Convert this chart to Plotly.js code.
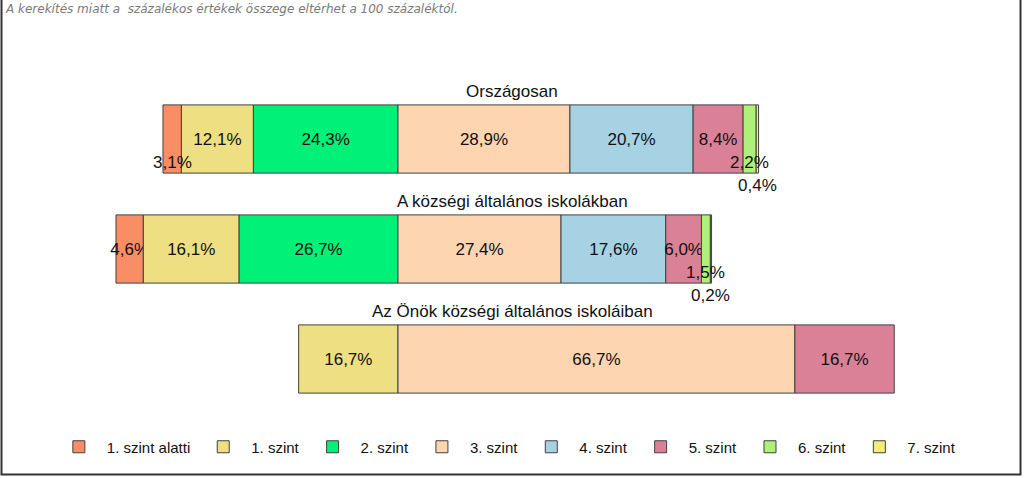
<!DOCTYPE html>
<html>
<head>
<meta charset="utf-8">
<script src="https://cdn.plot.ly/plotly-3.0.1.min.js"></script>
<style>html,body{margin:0;padding:0;background:#fff;}#chart{width:1024px;height:478px;}</style>
</head>
<body>
<div id="chart"></div>
<script>
// ---- data ----
const categories = ["Országosan", "A községi általános iskolákban", "Az Önök községi általános iskoláiban"];
const levelNames = ["1. szint alatti", "1. szint", "2. szint", "3. szint", "4. szint", "5. szint", "6. szint", "7. szint"];
const alatti = [3.1, 4.6, null];
const szint1 = [12.1, 16.1, 16.7];
const szint2 = [24.3, 26.7, null];
const szint3 = [28.9, 27.4, 66.7];
const szint4 = [20.7, 17.6, null];
const szint5 = [8.4, 6.0, 16.7];
const szint6 = [2.2, 1.5, null];
const szint7 = [0.4, 0.2, null];
const noteText = "A kerekítés miatt a  százalékos értékek összege eltérhet a 100 százaléktól.";

// ---- styles ----
const colors = ["#F98E66", "#EDDF82", "#00F078", "#FDD5B1", "#A6D2E3", "#DA8197", "#AEF07A", "#EEEE78"];
const series = [alatti, szint1, szint2, szint3, szint4, szint5, szint6, szint7];
const FONT = "Liberation Sans, Arial, sans-serif";
const fmt = v => v.toFixed(1).replace('.', ',') + '%';

// diverging: levels below 3. szint go to the left of zero
const starts = categories.map((c, i) => -((alatti[i] || 0) + (szint1[i] || 0) + (szint2[i] || 0)));
const cum = starts.slice();
const traces = [];
const annotations = [];
series.forEach((vals, k) => {
  const bases = [], texts = [];
  vals.forEach((v, i) => {
    bases.push(cum[i]);
    if (v != null) {
      if (v >= 4) texts.push(fmt(v));
      else {
        texts.push('');
        annotations.push({
          x: cum[i] + v / 2, y: categories[i], xref: 'x', yref: 'y',
          text: fmt(v), showarrow: false,
          yshift: v < 1 ? -46 : -23,
          font: {family: FONT, size: 17, color: '#111'}
        });
      }
      cum[i] += v;
    } else texts.push('');
  });
  traces.push({
    type: 'bar', orientation: 'h', name: levelNames[k],
    y: categories, x: vals, base: bases,
    text: texts, textposition: 'inside', insidetextanchor: 'middle',
    constraintext: 'none', textangle: 0,
    textfont: {family: FONT, size: 17, color: '#111'},
    marker: {color: colors[k], line: {color: '#404040', width: 1}},
    width: 0.62, hoverinfo: 'name+x'
  });
});

categories.forEach(c => {
  annotations.push({
    x: 0.5, xref: 'paper', y: c, yref: 'y', yshift: 48,
    text: c, showarrow: false,
    font: {family: FONT, size: 17, color: '#111'}
  });
});

annotations.push({
  x: 3 / 1024, xref: 'paper', xanchor: 'left',
  y: 414 / 330, yref: 'paper', yanchor: 'top',
  text: '<i>' + noteText + '</i>', showarrow: false,
  font: {family: "DejaVu Sans, sans-serif", size: 12, color: '#7a7a7a'}
});

const layout = {
  width: 1024, height: 478,
  margin: {l: 0, r: 0, t: 84, b: 64},
  paper_bgcolor: '#fff', plot_bgcolor: '#fff',
  barmode: 'overlay',
  showlegend: true,
  legend: {
    orientation: 'h', x: 0.494, xanchor: 'center', y: -0.1, yanchor: 'middle',
    font: {family: FONT, size: 15, color: '#111'},
    traceorder: 'normal', itemwidth: 46
  },
  xaxis: {range: [-398 / 5.95, 626 / 5.95], visible: false, fixedrange: true},
  yaxis: {type: 'category', range: [2.5, -0.5], visible: false, fixedrange: true},
  annotations: annotations,
  shapes: [{
    type: 'rect', xref: 'paper', yref: 'paper',
    x0: 1.5 / 1024, x1: 1020.5 / 1024, y0: (414 - 474.5) / 330, y1: 420 / 330,
    line: {color: '#333', width: 2}, fillcolor: 'rgba(0,0,0,0)'
  }]
};

Plotly.newPlot('chart', traces, layout, {displayModeBar: false, staticPlot: true});
</script>
</body>
</html>
